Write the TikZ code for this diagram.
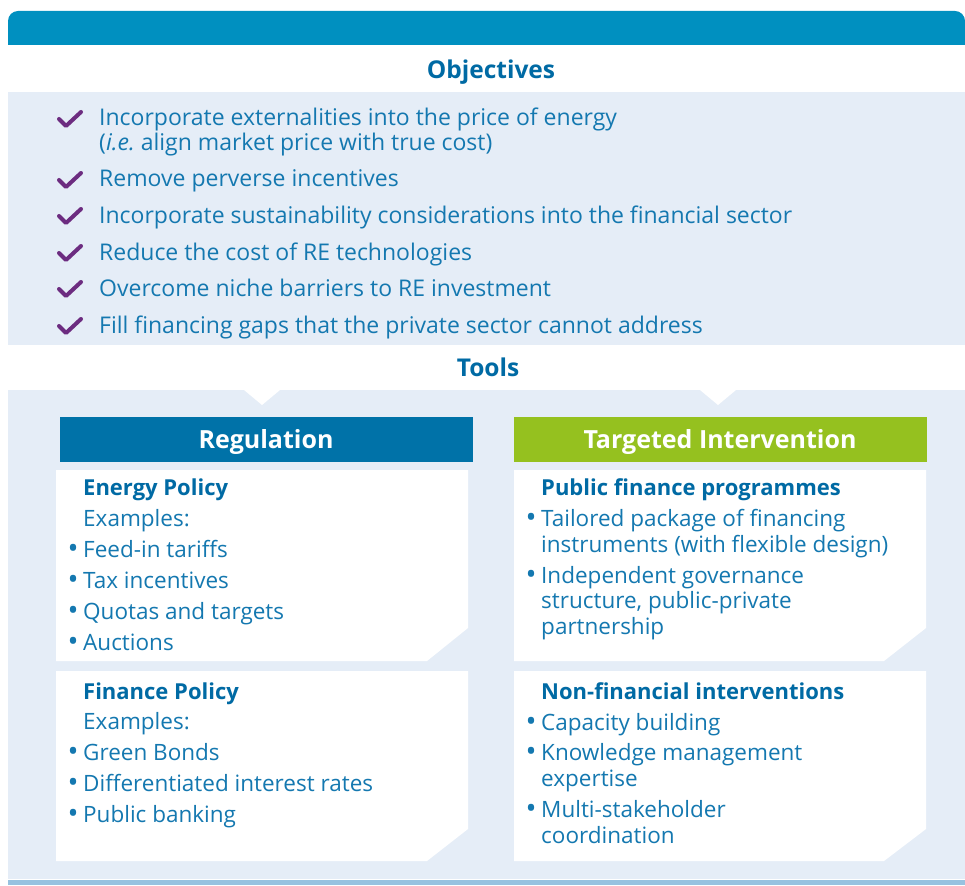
\documentclass[tikz,border=0pt]{standalone}
\usepackage{fontspec}
\setmainfont[Ligatures=NoCommon]{Open Sans}

\definecolor{barblue}{RGB}{0,144,192}
\definecolor{panelblue}{RGB}{229,237,247}
\definecolor{regblue}{RGB}{0,114,168}
\definecolor{tigreen}{RGB}{149,193,31}
\definecolor{checkpurple}{RGB}{108,44,128}
\definecolor{textblue}{RGB}{20,120,176}
\definecolor{headblue}{RGB}{0,106,164}
\definecolor{stripblue}{RGB}{151,194,224}

\newcommand{\bul}{\llap{\raisebox{-1.5pt}{\scalebox{1.3}{\textbullet}}\hspace{4.5pt}}}

\tikzset{
  objtext/.style={anchor=base west, inner sep=0pt, text=textblue,
    font=\fontsize{23}{25}\selectfont},
  plain/.style={anchor=base west, inner sep=0pt, text=textblue,
    font=\fontsize{22.5}{25}\selectfont},
  boxhead/.style={anchor=base west, inner sep=0pt, text=headblue,
    font=\bfseries\fontsize{22}{25}\selectfont},
  bandhead/.style={anchor=base, inner sep=0pt, text=headblue,
    font=\bfseries\fontsize{24.5}{27}\selectfont},
  colhead/.style={anchor=base, inner sep=0pt, text=white,
    font=\bfseries\fontsize{25}{28}\selectfont},
  check/.style={draw=checkpurple, line width=4pt, line cap=round, line join=round}
}

\begin{document}
\frenchspacing
\begin{tikzpicture}[x=1pt,y=-1pt]
\useasboundingbox (0,0) rectangle (965,885);

% bands and panels
\fill[barblue] (8,45) [rounded corners=10pt]-- (8,11) -- (965,11) [sharp corners]-- (965,45) -- cycle;
\fill[panelblue] (8,92) rectangle (965,345);
\fill[panelblue] (8,390) rectangle (965,879);
\fill[stripblue] (8,880) rectangle (965,885);

% notches below Tools
\fill[white] (244,390) -- (280,390) -- (262,405) -- cycle;
\fill[white] (700,390) -- (736,390) -- (718,405) -- cycle;

\node[bandhead] (objhead) at (491,79) {Objectives};
\node[bandhead] (toolshead) at (488,376) {Tools};

% objectives
\foreach \y in {118,179,215,252,288,325}
  \draw[check] (59,\y+1) -- (66,\y+8) -- (81,\y-6);

\node[objtext] (obj1) at (99,126) {Incorporate externalities into the price of energy};
\node[objtext] (obj1b) at (99,151) {(\textit{i.e.} align market price with true cost)};
\node[objtext] (obj2) at (99,187) {Remove perverse incentives};
\node[objtext] (obj3) at (99,223) {Incorporate sustainability considerations into the financial sector};
\node[objtext] (obj4) at (99,260) {Reduce the cost of RE technologies};
\node[objtext] (obj5) at (99,296) {Overcome niche barriers to RE investment};
\node[objtext] (obj6) at (99,333) {Fill financing gaps that the private sector cannot address};

% column headers
\fill[regblue] (60,417) rectangle (473,462);
\fill[tigreen] (514,417) rectangle (927,462);
\node[colhead] (reghead) at (266,448) {Regulation};
\node[colhead] (tihead) at (720,448) {Targeted Intervention};

% white boxes with cut corner
\fill[white] (56,470) -- (468,470) -- (468,628) -- (427,661) -- (56,661) -- cycle;
\fill[white] (56,671) -- (468,671) -- (468,829) -- (427,861) -- (56,861) -- cycle;
\fill[white] (514,470) -- (926,470) -- (926,628) -- (884,661) -- (514,661) -- cycle;
\fill[white] (514,671) -- (926,671) -- (926,829) -- (884,861) -- (514,861) -- cycle;

% regulation
\node[boxhead] (energy) at (83,495) {Energy Policy};
\node[plain] (energyex) at (83,526) {Examples:};
\node[plain] (fit) at (83,557) {\bul Feed-in tariffs};
\node[plain] (tax) at (83,588) {\bul Tax incentives};
\node[plain] (quota) at (83,619) {\bul Quotas and targets};
\node[plain] (auction) at (83,650) {\bul Auctions};

\node[boxhead] (finance) at (83,699) {Finance Policy};
\node[plain] (financeex) at (83,729) {Examples:};
\node[plain] (bonds) at (83,760) {\bul Green Bonds};
\node[plain] (rates) at (83,791) {\bul Differentiated interest rates};
\node[plain] (banking) at (83,822) {\bul Public banking};

% targeted intervention
\node[boxhead] (pfp) at (541,495) {Public finance programmes};
\node[plain] (tailored) at (541,526) {\bul Tailored package of financing};
\node[plain] (tailoredb) at (541,552) {instruments (with flexible design)};
\node[plain] (indep) at (541,583) {\bul Independent governance};
\node[plain] (indepb) at (541,608) {structure, public-private};
\node[plain] (indepc) at (541,634) {partnership};

\node[boxhead] (nonfin) at (541,699) {Non-financial interventions};
\node[plain] (capacity) at (541,730) {\bul Capacity building};
\node[plain] (knowledge) at (541,760) {\bul Knowledge management};
\node[plain] (knowledgeb) at (541,786) {expertise};
\node[plain] (multi) at (541,817) {\bul Multi-stakeholder};
\node[plain] (multib) at (541,843) {coordination};
\end{tikzpicture}
\end{document}
